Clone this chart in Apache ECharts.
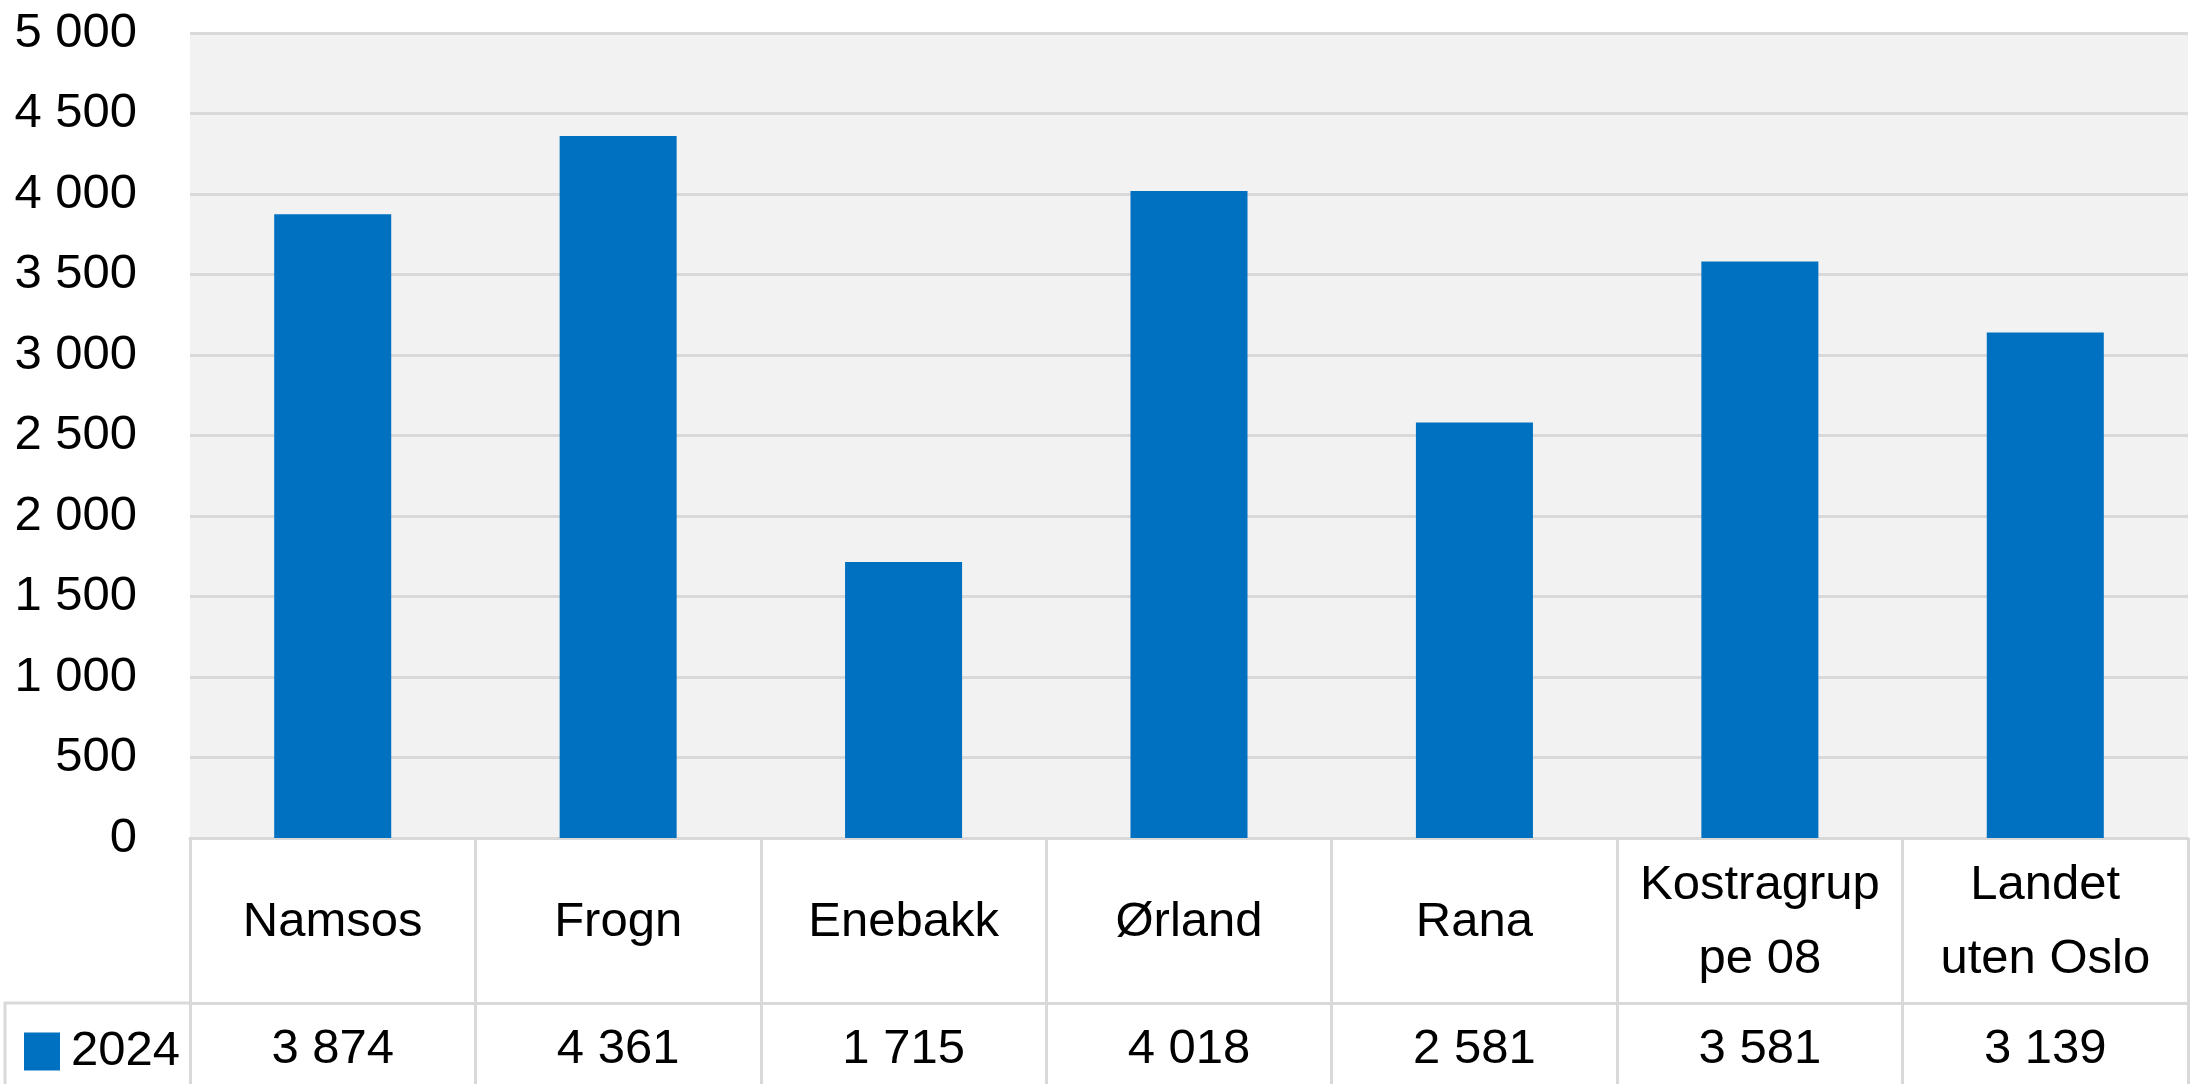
<!DOCTYPE html>
<html>
<head>
<meta charset="utf-8">
<script src="https://cdn.jsdelivr.net/npm/echarts@6/dist/echarts.min.js"></script>
<style>
  html, body { margin: 0; padding: 0; background: #fff; }
  #chart { width: 2195px; height: 1084px; }
</style>
</head>
<body>
<div id="chart"></div>
<script>
// data
let categories = ['Namsos', 'Frogn', 'Enebakk', 'Ørland', 'Rana', 'Kostragruppe 08', 'Landet uten Oslo'];
let categoryLabels = ['Namsos', 'Frogn', 'Enebakk', 'Ørland', 'Rana', 'Kostragrup\npe 08', 'Landet\nuten Oslo'];
let seriesName = '2024';
let values2024 = [3874, 4361, 1715, 4018, 2581, 3581, 3139];
let yMin = 0, yMax = 5000, yStep = 500;

let font = '"Liberation Sans", Arial, sans-serif';
let lineColor = '#d9d9d9';

function fmt(v) {
    // norsk tusenskille
    return String(v).replace(/\B(?=(\d{3})+(?!\d))/g, '\u00a0');
}

let chart = echarts.init(document.getElementById('chart'));

let option = {
    animation: false,
    backgroundColor: '#ffffff',
    textStyle: { fontFamily: font },
    grid: {
        left: 190,
        right: 7,
        top: 33,
        bottom: 246,
        show: true,
        backgroundColor: '#f2f2f2',
        borderWidth: 0
    },
    legend: {
        data: [seriesName],
        left: 19,
        top: 1022,
        icon: 'rect',
        itemWidth: 36,
        itemHeight: 38,
        itemGap: 0,
        textStyle: {
            fontFamily: font,
            fontSize: 49,
            color: '#000',
            padding: [0, 0, 0, 6]
        }
    },
    xAxis: [
        {
            type: 'category',
            data: categoryLabels,
            position: 'bottom',
            axisLine: { lineStyle: { color: lineColor, width: 3 } },
            axisTick: {
                show: true,
                length: 260,
                lineStyle: { color: lineColor, width: 3 }
            },
            axisLabel: {
                fontFamily: font,
                fontSize: 49,
                lineHeight: 74,
                color: '#000',
                margin: 84,
                verticalAlign: 'middle',
                interval: 0
            }
        },
        {
            type: 'category',
            data: values2024.map(fmt),
            position: 'bottom',
            offset: 165,
            axisLine: { show: true, lineStyle: { color: lineColor, width: 3 } },
            axisTick: { show: false },
            axisLabel: {
                fontFamily: font,
                fontSize: 49,
                color: '#000',
                margin: 46,
                verticalAlign: 'middle',
                interval: 0
            }
        }
    ],
    yAxis: {
        type: 'value',
        min: yMin,
        max: yMax,
        interval: yStep,
        axisLine: { show: false },
        axisTick: { show: false },
        axisLabel: {
            fontFamily: font,
            fontSize: 49,
            color: '#000',
            margin: 53,
            formatter: fmt
        },
        splitLine: { lineStyle: { color: lineColor, width: 3 } }
    },
    series: [
        {
            name: seriesName,
            type: 'bar',
            xAxisIndex: 0,
            data: values2024,
            barWidth: '41%',
            itemStyle: { color: '#0070c0' }
        }
    ],
    graphic: [
        // legend cell border of the data table
        {
            type: 'polyline',
            shape: { points: [[5, 1090], [5, 1003], [190, 1003]] },
            style: { stroke: lineColor, lineWidth: 3, fill: null }
        }
    ]
};

chart.setOption(option);
window.addEventListener('resize', function () {
    chart.resize();
});
</script>
</body>
</html>
